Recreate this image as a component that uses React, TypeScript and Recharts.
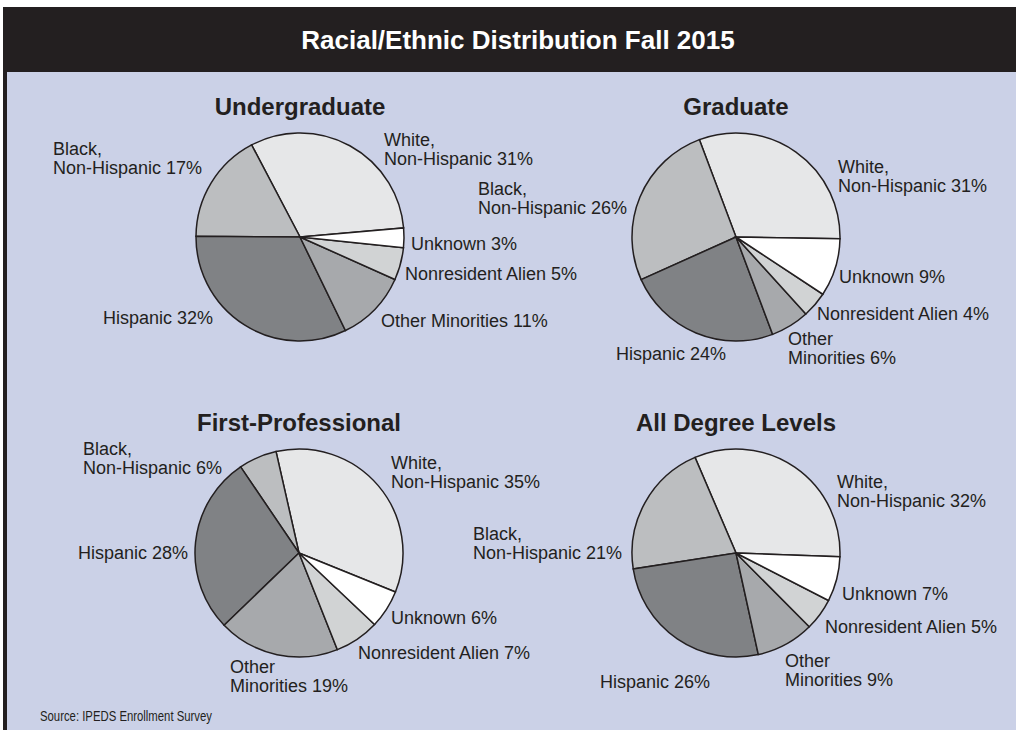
import { PieChart, Pie, Cell } from 'recharts'

const categories = ['White, Non-Hispanic', 'Black, Non-Hispanic', 'Hispanic', 'Other Minorities', 'Nonresident Alien', 'Unknown']
const categoryLines = [['White,', 'Non-Hispanic'], ['Black,', 'Non-Hispanic'], ['Hispanic'], ['Other', 'Minorities'], ['Nonresident Alien'], ['Unknown']]

const undergraduate = [31, 17, 32, 11, 5, 3]
const graduate = [31, 26, 24, 6, 4, 9]
const firstProfessional = [35, 6, 28, 19, 7, 6]
const allDegreeLevels = [32, 21, 26, 9, 5, 7]

const sliceColors = ['#e6e7e8', '#bcbec0', '#808285', '#a7a9ac', '#d1d3d4', '#ffffff']
const INK = '#231f20'
const FONT = '"Liberation Sans", Arial, Helvetica, sans-serif'

interface LabelSpot {
  dx: number
  dy: number
  wrap: boolean
}

interface PanelDef {
  title: string
  values: number[]
  cx: number
  cy: number
  startAngle: number
  labels: LabelSpot[]
}

// label spots are relative to the pie centre (baseline of first line)
const panels: PanelDef[] = [
  {
    title: 'Undergraduate',
    values: undergraduate,
    cx: 300,
    cy: 237,
    startAngle: 5,
    labels: [
      { dx: 84, dy: -91, wrap: true },
      { dx: -247, dy: -82, wrap: true },
      { dx: -197, dy: 87, wrap: false },
      { dx: 81, dy: 90, wrap: false },
      { dx: 105, dy: 43, wrap: false },
      { dx: 111, dy: 13, wrap: false },
    ],
  },
  {
    title: 'Graduate',
    values: graduate,
    cx: 736,
    cy: 237,
    startAngle: -1,
    labels: [
      { dx: 102, dy: -64, wrap: true },
      { dx: -258, dy: -42, wrap: true },
      { dx: -120, dy: 123, wrap: false },
      { dx: 52, dy: 108, wrap: true },
      { dx: 81, dy: 83, wrap: false },
      { dx: 103, dy: 46, wrap: false },
    ],
  },
  {
    title: 'First-Professional',
    values: firstProfessional,
    cx: 299,
    cy: 553,
    startAngle: -22,
    labels: [
      { dx: 92, dy: -84, wrap: true },
      { dx: -216, dy: -98, wrap: true },
      { dx: -221, dy: 6, wrap: false },
      { dx: -69, dy: 120, wrap: true },
      { dx: 59, dy: 106, wrap: false },
      { dx: 92, dy: 71, wrap: false },
    ],
  },
  {
    title: 'All Degree Levels',
    values: allDegreeLevels,
    cx: 736,
    cy: 553,
    startAngle: -2,
    labels: [
      { dx: 101, dy: -65, wrap: true },
      { dx: -263, dy: -13, wrap: true },
      { dx: -136, dy: 135, wrap: false },
      { dx: 49, dy: 114, wrap: true },
      { dx: 89, dy: 80, wrap: false },
      { dx: 106, dy: 47, wrap: false },
    ],
  },
]

const RADIUS = 104

function makeLabel(panel: PanelDef) {
  return (props: any) => {
    const i = props.index as number
    const spot = panel.labels[i]
    const x = panel.cx + spot.dx
    const y = panel.cy + spot.dy
    const parts = categoryLines[i]
    const pct = `${panel.values[i]}%`
    const lines = spot.wrap && parts.length > 1
      ? [parts[0], `${parts[1]} ${pct}`]
      : [`${parts.join(' ')} ${pct}`]
    return (
      <text key={`lbl-${i}`} x={x} y={y} fill={INK} fontSize={18} fontFamily={FONT} textAnchor="start">
        {lines.map((ln, k) => (
          <tspan key={k} x={x} y={y + k * 19}>{ln}</tspan>
        ))}
      </text>
    )
  }
}

export default function App() {
  return (
    <div style={{ position: 'absolute', left: 0, top: 0, width: 1016, height: 730, background: '#fff', overflow: 'hidden' }}>
      <div style={{ position: 'absolute', left: 3, top: 7, width: 1013, height: 65, background: INK }} />
      <div style={{ position: 'absolute', left: 3, top: 72, width: 1013, height: 658, background: '#cbd1e7', borderLeft: `4px solid ${INK}`, boxSizing: 'border-box' }} />
      <div style={{ position: 'absolute', left: 0, top: 0 }}>
        <PieChart width={1016} height={730} margin={{ top: 0, right: 0, bottom: 0, left: 0 }}>
          {panels.map(p => (
            <Pie
              key={p.title}
              data={p.values.map((v, i) => ({ name: categories[i], value: v }))}
              dataKey="value"
              nameKey="name"
              cx={p.cx}
              cy={p.cy}
              outerRadius={RADIUS}
              startAngle={p.startAngle}
              endAngle={p.startAngle + 360}
              stroke={INK}
              strokeWidth={1.5}
              label={makeLabel(p)}
              labelLine={false}
              isAnimationActive={false}
            >
              {p.values.map((_, i) => (
                <Cell key={i} fill={sliceColors[i]} />
              ))}
            </Pie>
          ))}
        </PieChart>
      </div>
      <svg width={1016} height={730} style={{ position: 'absolute', left: 0, top: 0, pointerEvents: 'none' }}>
        <text x={518} y={49} fill="#fff" fontSize={26} fontWeight="bold" fontFamily={FONT} textAnchor="middle">
          Racial/Ethnic Distribution Fall 2015
        </text>
        {panels.map(p => (
          <text key={p.title} x={p.cx} y={p.cy - RADIUS - 18} fill={INK} fontSize={24} fontWeight="bold" fontFamily={FONT} textAnchor="middle">
            {p.title}
          </text>
        ))}
        <text x={40} y={721} fill={INK} fontSize={14} fontFamily={FONT} textLength={172} lengthAdjust="spacingAndGlyphs">
          Source: IPEDS Enrollment Survey
        </text>
      </svg>
    </div>
  )
}
